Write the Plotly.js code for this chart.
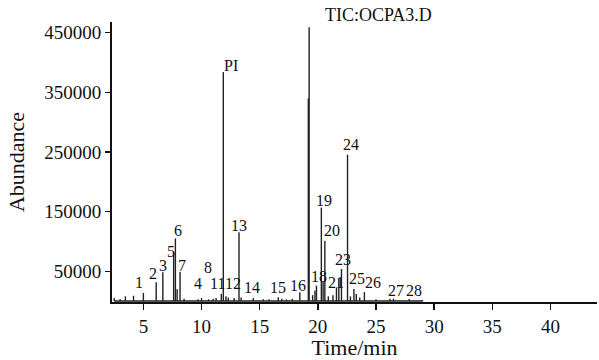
<!DOCTYPE html>
<html>
<head>
<meta charset="utf-8">
<script src="https://cdn.plot.ly/plotly-3.0.1.min.js"></script>
<style>html,body{margin:0;padding:0;background:#fff;}#chart{width:599px;height:360px;}</style>
</head>
<body>
<div id="chart"></div>
<script>
// Retention time (min) and abundance of each chromatogram peak
var peakTime = [2.5, 3.0, 3.45, 4.15, 5.0, 6.1, 6.67, 7.6, 7.75, 7.9, 8.15, 8.5, 9.7, 10.0, 10.6, 11.0, 11.25, 11.7, 11.87, 12.1, 12.3, 12.8, 13.22, 13.4, 14.45, 15.3, 15.8, 16.6, 16.9, 17.3, 17.8, 18.45, 19.18, 19.25, 19.55, 19.75, 19.88, 20.3, 20.45, 20.6, 20.9, 21.3, 21.6, 21.8, 22.03, 22.55, 22.8, 23.1, 23.3, 23.6, 24.0, 25.0, 26.2, 26.5, 27.85, 29.0];
var peakAbund = [5000, 3500, 8000, 9000, 13800, 31700, 48300, 82000, 105000, 20000, 49000, 4000, 3000, 5000, 3000, 4000, 5000, 12000, 384000, 8000, 6000, 5000, 115500, 6000, 5000, 3000, 3000, 6500, 4000, 3000, 4000, 15000, 340000, 459000, 10000, 17700, 26000, 156700, 32000, 101000, 8000, 10000, 23000, 37000, 53800, 245500, 8000, 20500, 12000, 6000, 15000, 3000, 4000, 4000, 3500, 2000];

// Peak labels (text and the time/abundance where each is written)
var labelText  = ["1", "2", "3", "5", "6", "7", "4", "8", "11", "PI", "12", "13", "14", "15", "16", "18", "19", "20", "21", "23", "24", "25", "26", "27", "28"];
var labelTime  = [4.66, 5.81, 6.67, 7.36, 8.01, 8.30, 9.67, 10.53, 11.36, 12.49, 12.68, 13.22, 14.30, 16.60, 18.30, 20.10, 20.54, 21.23, 21.52, 22.17, 22.89, 23.35, 24.78, 26.70, 28.27];
var labelAbund = [31700, 45500, 59300, 82700, 117700, 59300, 28800, 56700, 28800, 395500, 28800, 127200, 23300, 23300, 26000, 41700, 169300, 117700, 30500, 70500, 262200, 37200, 31700, 17700, 17700];

var sampleName = "TIC:OCPA3.D";
var yTicks = [50000, 150000, 250000, 350000, 450000];
var xTicks = [5, 10, 15, 20, 25, 30, 35, 40];

// spikes: each peak drawn as a vertical stroke from baseline
var xs = [], ys = [];
for (var i = 0; i < peakTime.length; i++) {
  xs.push(peakTime[i], peakTime[i], null);
  ys.push(0, peakAbund[i], null);
}
var baseline = {x: [peakTime[0], peakTime[peakTime.length - 1]], y: [0, 0], mode: 'lines',
  line: {color: '#222', width: 1.5}, hoverinfo: 'skip', showlegend: false};
var trace = {x: xs, y: ys, mode: 'lines', line: {color: '#222', width: 1.4}, showlegend: false};

var serif = 'Liberation Serif, Times New Roman, serif';
var ann = [];
for (var j = 0; j < labelText.length; j++) {
  ann.push({x: labelTime[j], y: labelAbund[j], text: labelText[j], showarrow: false,
    xanchor: 'center', yanchor: 'middle', font: {family: serif, size: 16, color: '#111'}});
}
ann.push({x: 20.43, y: 1.0, yref: 'paper', text: sampleName, showarrow: false,
  xanchor: 'left', yanchor: 'bottom', yshift: -5, font: {family: serif, size: 18, color: '#111'}});

var layout = {
  width: 599, height: 360,
  margin: {l: 112, r: 2, t: 22, b: 58},
  paper_bgcolor: '#fff', plot_bgcolor: '#fff',
  font: {family: serif, color: '#111'},
  xaxis: {range: [2.3, 44], tickvals: xTicks, ticks: 'outside', ticklen: 6, tickwidth: 1.5, tickcolor: '#111',
    showline: true, linewidth: 2, linecolor: '#111', showgrid: false, zeroline: false,
    tickfont: {family: serif, size: 19, color: '#111'},
    title: {text: 'Time/min', font: {family: serif, size: 22, color: '#111'}, standoff: 1}},
  yaxis: {range: [-1500, 468000], tickvals: yTicks, tickformat: 'd', ticks: 'outside', ticklen: 5, tickwidth: 1.2, tickcolor: '#111',
    showline: true, linewidth: 2, linecolor: '#111', showgrid: false, zeroline: false,
    tickfont: {family: serif, size: 19, color: '#111'},
    title: {text: 'Abundance', font: {family: serif, size: 22, color: '#111'}, standoff: 14}},
  annotations: ann
};
Plotly.newPlot('chart', [baseline, trace], layout, {displayModeBar: false, staticPlot: true});
</script>
</body>
</html>
